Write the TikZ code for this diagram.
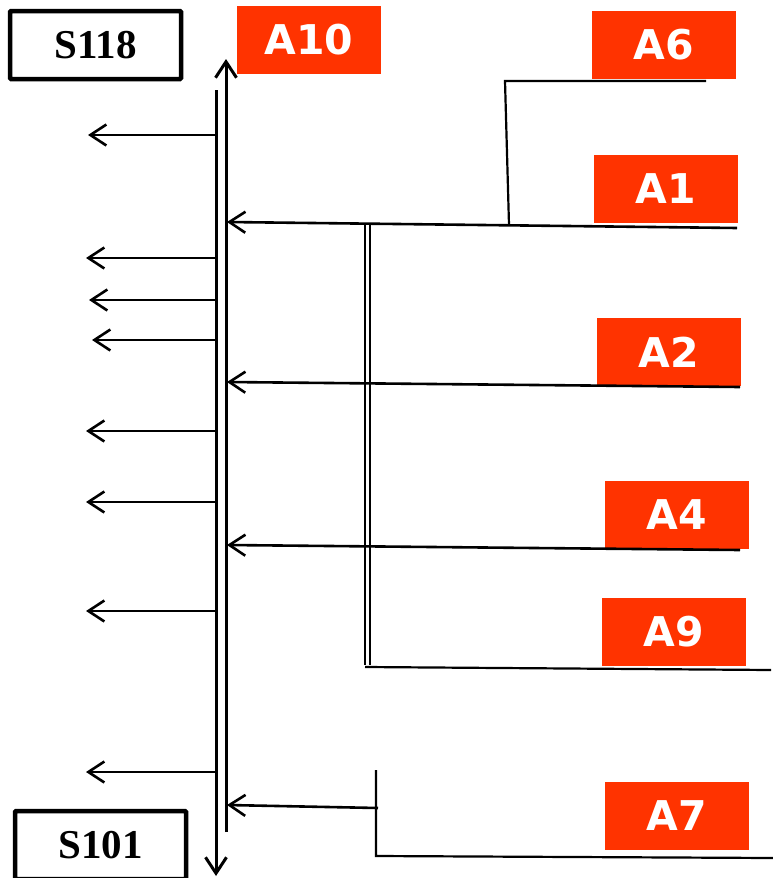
\documentclass[tikz,border=0pt]{standalone}
\usepackage{fontspec}
\setmainfont{Liberation Serif}
\newfontfamily\labelfont{DejaVu Sans}
\usetikzlibrary{arrows.meta}
\definecolor{boxred}{RGB}{255,51,0}

\begin{document}
\begin{tikzpicture}[x=1pt,y=-1pt,
  redbox/.style={fill=boxred,text=white,minimum width=144pt,minimum height=68pt,inner sep=0pt,
    font=\labelfont\bfseries\fontsize{41}{41}\selectfont},
  sbox/.style={draw,line width=4.5pt,rounded corners=1pt,minimum width=171pt,minimum height=68pt,
    inner sep=0pt,font=\bfseries\fontsize{41}{41}\selectfont},
  tip/.style={-{Straight Barb[length=16pt,width=21pt]}},
  arr/.style={line width=2.6pt,tip},
  wire/.style={line width=2.2pt}]
\useasboundingbox (0,0) rectangle (773,878);
\node[sbox] (s118) at (95.5,45) {S118};
\node[sbox] (s101) at (100.5,845) {S101};
\node[redbox] (a10) at (309,39.5) {A10};
\node[redbox] (a6) at (664,45) {A6};
\node[redbox] (a1) at (666,189) {A1};
\node[redbox] (a2) at (669,352) {A2};
\node[redbox] (a4) at (677,515) {A4};
\node[redbox] (a9) at (674,632) {A9};
\node[redbox] (a7) at (677,816) {A7};
\coordinate (upS) at (226,832);
\coordinate (upE) at (226,59);
\coordinate (dnS) at (216,90);
\coordinate (dnE) at (216,876);
\draw[line width=3pt,tip] (upS) -- (upE);
\draw[line width=3pt,tip] (dnS) -- (dnE);
\foreach \y/\x [count=\i] in {135/88,258/86,300/89,340/92,431/86,502/86,611/86,772/86} {
  \coordinate (o\i) at (215,\y);
  \coordinate (t\i) at (\x,\y);
  \draw[arr] (o\i) -- (t\i);
}
\coordinate (a1s) at (737,228);
\coordinate (a1t) at (227,222);
\coordinate (a6j) at (509,225);
\coordinate (a6c) at (505,81);
\coordinate (a6e) at (706,81);
\draw[arr] (a1s) -- (a1t);
\draw[wire] (a6j) -- (a6c) -- (a6e);
\coordinate (dtop) at (367.5,225);
\coordinate (dbot) at (367.5,665);
\draw[double,double distance=2.2pt,line width=2pt] (dtop) -- (dbot);
\coordinate (a9s) at (365,667);
\coordinate (a9e) at (771,670);
\draw[wire] (a9s) -- (a9e);
\coordinate (a2s) at (740,387);
\coordinate (a2t) at (227,382);
\draw[arr] (a2s) -- (a2t);
\coordinate (a4s) at (740,550);
\coordinate (a4t) at (227,545);
\draw[arr] (a4s) -- (a4t);
\coordinate (a7j) at (378,808);
\coordinate (a7t) at (227,805);
\draw[arr] (a7j) -- (a7t);
\coordinate (a7u) at (376,770);
\coordinate (a7c) at (376,856);
\coordinate (a7e) at (773,858);
\draw[wire] (a7u) -- (a7c) -- (a7e);
\end{tikzpicture}
\end{document}
